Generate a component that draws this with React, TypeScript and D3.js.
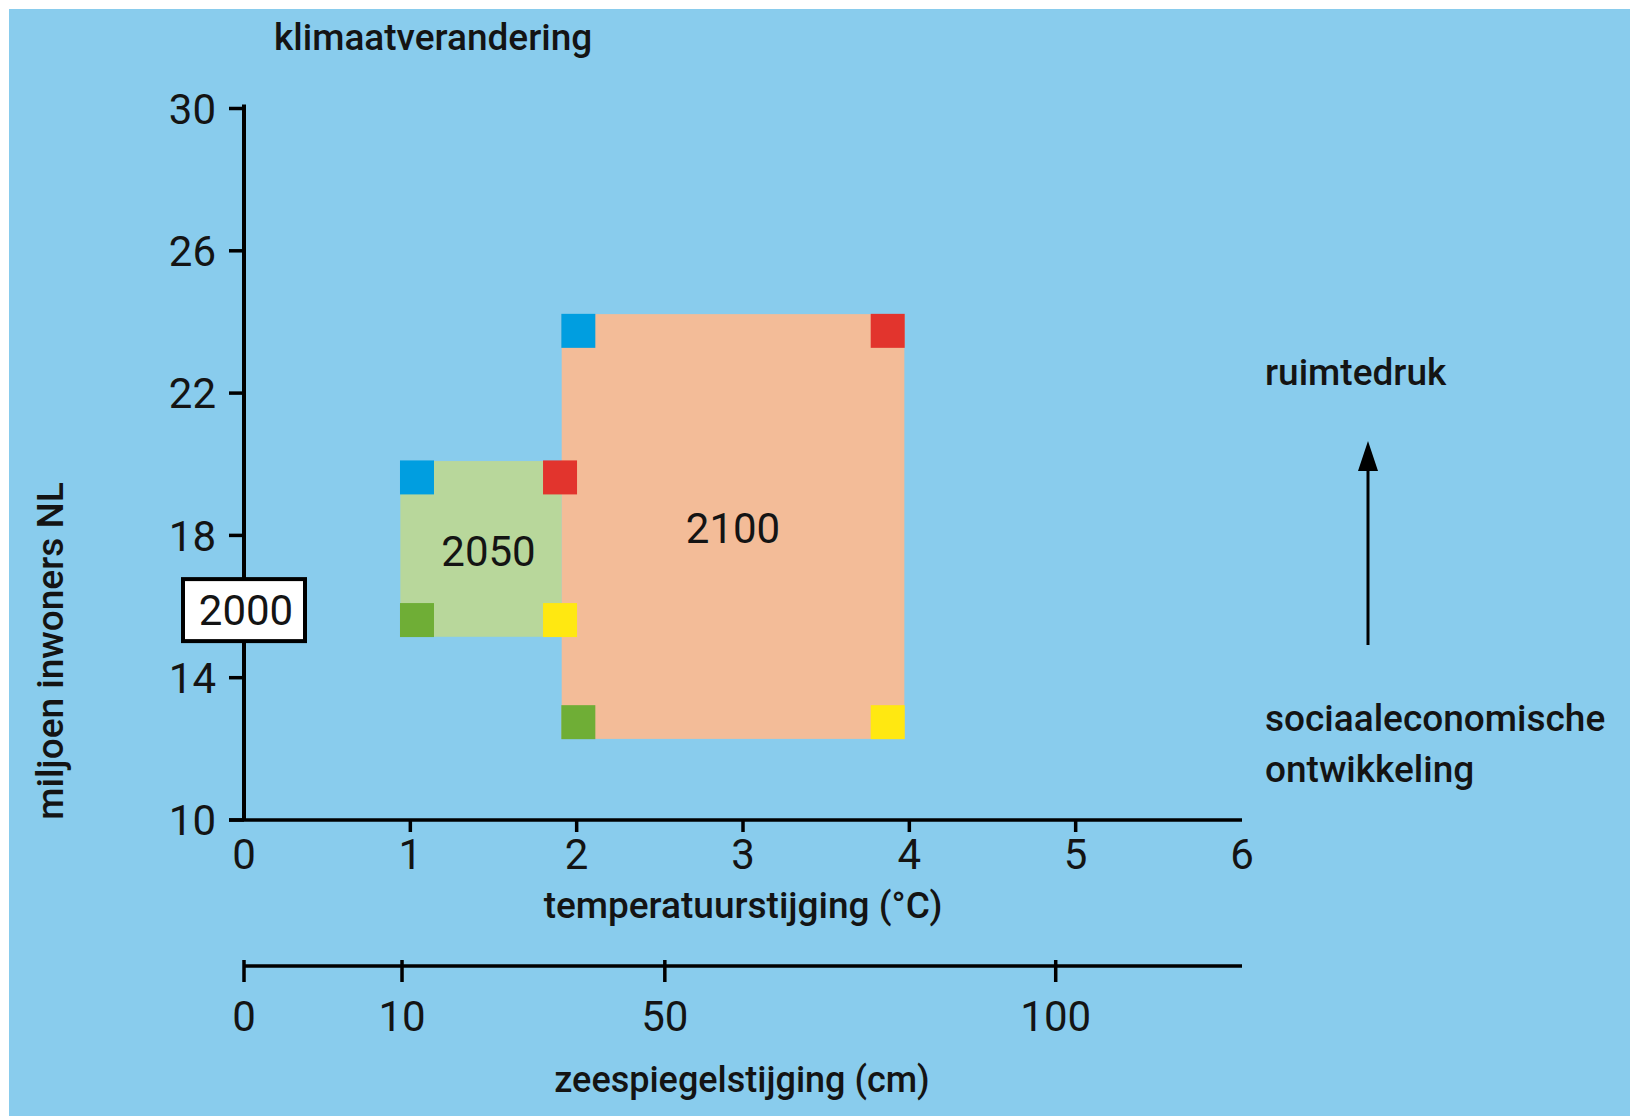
import React, { useRef, useEffect } from 'react';
import * as d3 from 'd3';

// axis ticks
const tempTicks = [1, 2, 3, 4, 5];
const tempLabels = [0, 1, 2, 3, 4, 5, 6];
const popTicks = [10, 14, 18, 22, 26, 30];
const seaTicks = [0, 10, 50, 100];
// temperature (°C) that lines up with each sea level tick
const seaTempMatch = [0, 0.95, 2.53, 4.88];

// scenario blocks
const scenarioYears = ['2050', '2100'];
const scenarioTempMin = [0.94, 1.91];
const scenarioTempMax = [1.91, 3.97];
const scenarioPopMin = [15.15, 12.28];
const scenarioPopMax = [20.09, 24.22];
const scenarioLabelTemp = [1.47, 2.94];
const scenarioLabelPop = [17.56, 18.21];
const scenarioFills = ['#b8d79b', '#f3bc98'];

// corner markers: blue, red, green, yellow
const markerColors = ['#009ee0', '#e2342d', '#6fae36', '#ffe811'];
const markerTemp2050 = [1.04, 1.9, 1.04, 1.9];
const markerPop2050 = [19.63, 19.63, 15.62, 15.62];
const markerTemp2100 = [2.01, 3.87, 2.01, 3.87];
const markerPop2100 = [23.75, 23.75, 12.75, 12.75];

// starting point
const startYear = '2000';
const startTemp = 0;
const startPop = 15.9;

const FONT = 'Roboto, "Noto Sans", sans-serif';
const INK = '#141414';

export default function App() {
  const svgRef = useRef<SVGSVGElement>(null);
  const width = 1630;
  const height = 1116;
  const margin = { top: 108.5, right: 388, bottom: 296, left: 244 };

  useEffect(() => {
    document.body.style.margin = '0';
    if (!svgRef.current) return;
    const svg = d3.select(svgRef.current);
    svg.selectAll('*').remove();

    const x = d3.scaleLinear().domain([0, 6]).range([margin.left, width - margin.right]);
    const y = d3.scaleLinear().domain([10, 30]).range([height - margin.bottom, margin.top]);
    const sea = d3.scaleLinear().domain(seaTicks).range(seaTempMatch.map(t => x(t)));

    // background
    svg.append('rect')
      .attr('x', 9).attr('y', 9)
      .attr('width', width - 9).attr('height', height - 9)
      .attr('fill', '#89cced');

    // scenario blocks
    scenarioYears.forEach((yr, i) => {
      svg.append('rect')
        .attr('x', x(scenarioTempMin[i]))
        .attr('y', y(scenarioPopMax[i]))
        .attr('width', x(scenarioTempMax[i]) - x(scenarioTempMin[i]))
        .attr('height', y(scenarioPopMin[i]) - y(scenarioPopMax[i]))
        .attr('fill', scenarioFills[i]);
    });

    const sq = 34;
    const markers = [
      ...markerColors.map((c, i) => ({ c, t: markerTemp2050[i], p: markerPop2050[i] })),
      ...markerColors.map((c, i) => ({ c, t: markerTemp2100[i], p: markerPop2100[i] })),
    ];
    svg.selectAll('.marker')
      .data(markers)
      .enter()
      .append('rect')
      .attr('class', 'marker')
      .attr('x', d => x(d.t) - sq / 2)
      .attr('y', d => y(d.p) - sq / 2)
      .attr('width', sq)
      .attr('height', sq)
      .attr('fill', d => d.c);

    scenarioYears.forEach((yr, i) => {
      svg.append('text')
        .attr('x', x(scenarioLabelTemp[i]))
        .attr('y', y(scenarioLabelPop[i]))
        .attr('dy', '0.36em')
        .attr('text-anchor', 'middle')
        .attr('font-family', FONT)
        .attr('font-size', 42)
        .attr('fill', INK)
        .text(yr);
    });

    // y axis
    svg.append('line')
      .attr('x1', x(0)).attr('x2', x(0))
      .attr('y1', y(30) - 4).attr('y2', y(10))
      .attr('stroke', '#000').attr('stroke-width', 4);
    const yt = svg.selectAll('.ytick').data(popTicks).enter().append('g').attr('class', 'ytick');
    yt.append('line')
      .attr('x1', x(0) - 15).attr('x2', x(0))
      .attr('y1', d => y(d)).attr('y2', d => y(d))
      .attr('stroke', '#000').attr('stroke-width', 3.5);
    yt.append('text')
      .attr('x', x(0) - 28)
      .attr('y', d => y(d))
      .attr('dy', '0.36em')
      .attr('text-anchor', 'end')
      .attr('font-family', FONT)
      .attr('font-size', 42)
      .attr('fill', INK)
      .text(d => d);

    // x axis (temperature)
    svg.append('line')
      .attr('x1', x(0) - 15).attr('x2', x(6))
      .attr('y1', y(10)).attr('y2', y(10))
      .attr('stroke', '#000').attr('stroke-width', 3.5);
    svg.selectAll('.xtick').data(tempTicks).enter().append('line')
      .attr('class', 'xtick')
      .attr('x1', d => x(d)).attr('x2', d => x(d))
      .attr('y1', y(10)).attr('y2', y(10) + 12)
      .attr('stroke', '#000').attr('stroke-width', 3.5);
    svg.selectAll('.xlabel').data(tempLabels).enter().append('text')
      .attr('class', 'xlabel')
      .attr('x', d => x(d))
      .attr('y', y(10) + 49)
      .attr('text-anchor', 'middle')
      .attr('font-family', FONT)
      .attr('font-size', 42)
      .attr('fill', INK)
      .text(d => d);

    // sea level axis
    const seaY = 966;
    svg.append('line')
      .attr('x1', sea(0)).attr('x2', x(6))
      .attr('y1', seaY).attr('y2', seaY)
      .attr('stroke', '#000').attr('stroke-width', 3.5);
    svg.selectAll('.stick').data(seaTicks).enter().append('line')
      .attr('class', 'stick')
      .attr('x1', d => sea(d)).attr('x2', d => sea(d))
      .attr('y1', seaY - 6).attr('y2', seaY + 16)
      .attr('stroke', '#000').attr('stroke-width', 3.5);
    svg.selectAll('.slabel').data(seaTicks).enter().append('text')
      .attr('class', 'slabel')
      .attr('x', d => sea(d))
      .attr('y', seaY + 65)
      .attr('text-anchor', 'middle')
      .attr('font-family', FONT)
      .attr('font-size', 42)
      .attr('fill', INK)
      .text(d => d);

    // starting point box
    const bx = x(startTemp);
    const by = y(startPop);
    svg.append('rect')
      .attr('x', bx - 61).attr('y', by - 31)
      .attr('width', 122).attr('height', 62)
      .attr('fill', '#fff')
      .attr('stroke', '#000').attr('stroke-width', 4);
    svg.append('text')
      .attr('x', bx + 2).attr('y', by)
      .attr('dy', '0.36em')
      .attr('text-anchor', 'middle')
      .attr('font-family', FONT)
      .attr('font-size', 42)
      .attr('fill', INK)
      .text(startYear);

    // titles and labels
    const label = (tx: number, ty: number, s: string, anchor = 'start') =>
      svg.append('text')
        .attr('x', tx).attr('y', ty)
        .attr('text-anchor', anchor)
        .attr('font-family', FONT)
        .attr('font-size', 37)
        .attr('font-weight', 500)
        .attr('fill', INK)
        .text(s);

    label(274, 50, 'klimaatverandering');
    label(1265, 385, 'ruimtedruk');
    label(1265, 731, 'sociaaleconomische');
    label(1265, 782, 'ontwikkeling');
    label(743, 918, 'temperatuurstijging (°C)', 'middle');
    label(742, 1092, 'zeespiegelstijging (cm)', 'middle')
      .attr('font-size', 36);
    label(0, 0, 'miljoen inwoners NL', 'middle')
      .attr('transform', `translate(63,651) rotate(-90)`);

    // arrow
    svg.append('line')
      .attr('x1', 1368).attr('x2', 1368)
      .attr('y1', 645).attr('y2', 465)
      .attr('stroke', '#000').attr('stroke-width', 3);
    svg.append('path')
      .attr('d', 'M1368,441 L1378,471 L1358,471 Z')
      .attr('fill', '#000');
  }, []);

  return (
    <svg ref={svgRef} width={width} height={height} style={{ display: 'block', background: '#fff' }} />
  );
}
